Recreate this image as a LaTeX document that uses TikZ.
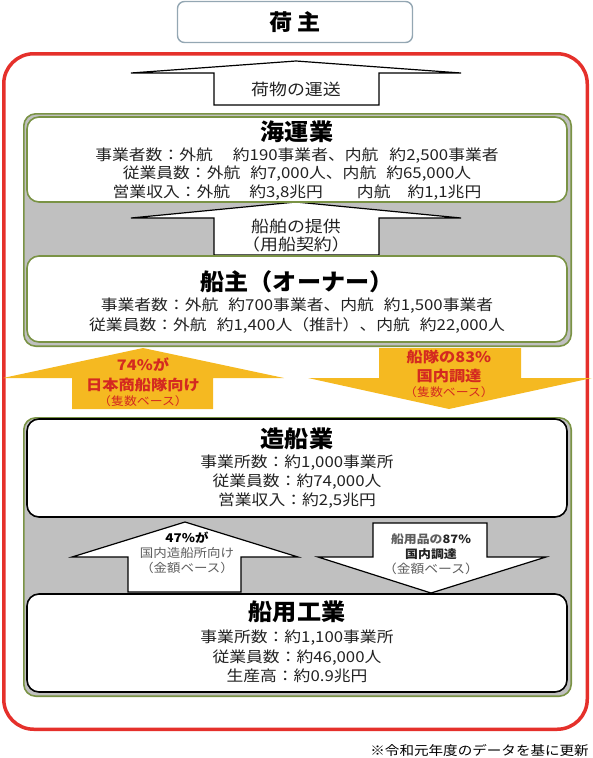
\documentclass[tikz,border=0pt]{standalone}
\usepackage{fontspec}
\setmainfont{Noto Sans CJK JP}[FakeStretch=1.12]
\newfontfamily\headfont{Noto Sans CJK JP}[FakeStretch=1.05]
\usetikzlibrary{positioning}
\definecolor{frame-red}{HTML}{E5302B}
\definecolor{group-gray}{HTML}{C0C0C0}
\definecolor{group-green}{HTML}{7A9345}
\definecolor{share-orange}{HTML}{F5B921}
\definecolor{share-red}{HTML}{D42A20}
\definecolor{shipper-line}{HTML}{94A7B3}
\definecolor{body-text}{HTML}{222222}
\definecolor{note-gray}{HTML}{5E5E5E}
\tikzset{redframe/.style =
   {rectangle,
    draw=frame-red,
    line width=3.5pt,
    rounded corners=30pt,
    minimum width=583.5pt,
    minimum height=675.5pt}}
\tikzset{shipperbox/.style =
   {rectangle,
    draw=shipper-line,
    fill=white,
    line width=1.4pt,
    rounded corners=7pt,
    minimum width=235pt,
    minimum height=41pt,
    font=\headfont\bfseries\fontsize{22}{24}\selectfont}}
\tikzset{group/.style =
   {rectangle,
    draw=group-green,
    fill=group-gray,
    line width=1.6pt,
    rounded corners=12pt,
    inner sep=0pt,
    minimum width=547.4pt}}
\tikzset{greenbox/.style =
   {rectangle,
    draw=group-green,
    fill=white,
    line width=1.6pt,
    rounded corners=12pt,
    inner sep=0pt,
    minimum width=540pt}}
\tikzset{blackbox/.style =
   {rectangle,
    draw=black,
    fill=white,
    line width=1.6pt,
    rounded corners=12pt,
    inner sep=0pt,
    minimum width=540pt,
    minimum height=98pt}}
\tikzset{headline/.style =
   {inner sep=0pt,
    text=black,
    font=\headfont\bfseries\fontsize{23}{26}\selectfont}}
\tikzset{figures/.style =
   {align=center,
    inner sep=0pt,
    text=body-text,
    font=\fontsize{15}{18.5}\selectfont}}
\tikzset{flowtext/.style =
   {align=center,
    inner sep=0pt,
    text=body-text,
    font=\fontsize{16}{18}\selectfont}}
\tikzset{sharetext/.style =
   {align=center,
    inner sep=0pt,
    text=share-red,
    font=\bfseries\fontsize{14.5}{19.5}\selectfont}}
\tikzset{sharenote/.style =
   {inner sep=0pt,
    text=share-red,
    font=\fontsize{11.5}{13}\selectfont}}
\tikzset{supplytext/.style =
   {align=center,
    inner sep=0pt,
    text=note-gray,
    font=\fontsize{12}{15}\selectfont}}
\tikzset{flowpath/.style = {draw=black, fill=white, line width=1.2pt}}
\tikzset{sharepath/.style = {fill=share-orange}}

\begin{document}
\begin{tikzpicture}[x=1pt, y=-1pt]

    \useasboundingbox (0,0) rectangle (592,758);

    \node [redframe] (frame) at (295.5,391.5) {};

    \node [shipperbox] (shipper) at (295,22) {荷\hspace{5pt}主};

    % carriage of cargo
    \draw [flowpath] (214,105) -- (214,73) -- (131,73) -- (296,61)
        -- (461,73) -- (379,73) -- (379,105) -- cycle;

    % shipping and ship owners
    \node [group,
           minimum height=232.4pt] (sea-group) at (297.5,230) {};

    \draw [flowpath] (214,255) -- (214,218) -- (131,218) -- (296,202)
        -- (461,218) -- (379,218) -- (379,255) -- cycle;

    \node [greenbox,
           minimum height=85pt] (kaiun) at (297,159.5) {};

    \node [greenbox,
           minimum height=86pt] (owner) at (297,299) {};

    % shipbuilding and marine equipment
    \node [group,
           minimum height=278.4pt] (yard-group) at (297.5,557) {};

    \draw [flowpath] (128,592) -- (128,557) -- (72,557) -- (185,522)
        -- (298,557) -- (241,557) -- (241,592) -- cycle;

    \draw [flowpath] (373,523) -- (487,523) -- (487,557) -- (546,557)
        -- (431,593) -- (318,557) -- (373,557) -- cycle;

    \node [blackbox] (yard) at (297,468) {};

    \node [blackbox] (equipment) at (297,643) {};

    % shares between owners and yards
    \fill [sharepath] (72,409) -- (72,378) -- (3,378) -- (143,348)
        -- (284,378) -- (213,378) -- (213,409) -- cycle;

    \fill [sharepath] (379,348) -- (521,348) -- (521,378) -- (592,378)
        -- (449,409) -- (308,378) -- (379,378) -- cycle;

    \node [flowtext] (carriage) at (296,89) {荷物の運送};

    \node [headline] (kaiun-title) at (297,132) {海運業};

    \node [figures] (kaiun-figures) at (297,174)
    {事業者数：外航\hspace{20pt}約190事業者、内航\hspace{11pt}約2,500事業者\\
     従業員数：外航\hspace{10pt}約7,000人、内航\hspace{10pt}約65,000人\\
     営業収入：外航\hspace{19pt}約3,8兆円\hspace{34pt}内航\hspace{17pt}約1,1兆円};

    \node [flowtext] (charter) at (296,236) {船舶の提供\\（用船契約）};

    \node [headline] (owner-title) at (297,282) {船主（オーナー）};

    \node [figures,
           font=\fontsize{15}{20}\selectfont] (owner-figures) at (297,316)
    {事業者数：外航\hspace{10pt}約700事業者、内航\hspace{10pt}約1,500事業者\\
     従業員数：外航\hspace{10pt}約1,400人（推計）、内航\hspace{10pt}約22,000人};

    \node [sharetext] (fleet-share) at (143,375) {74\%が\\日本商船隊向け};
    \node [sharenote,
           below = 3pt of fleet-share] (fleet-note) {（隻数ベース）};

    \node [sharetext] (domestic-share) at (449,366.5) {船隊の83\%\\国内調達};
    \node [sharenote,
           below = 3pt of domestic-share] (domestic-note) {（隻数ベース）};

    \node [headline] (yard-title) at (297,439) {造船業};

    \node [figures,
           font=\fontsize{15}{19}\selectfont] (yard-figures) at (297,481.5)
    {事業所数：約1,000事業所\\
     従業員数：約74,000人\\
     営業収入：約2,5兆円};

    \node [supplytext,
           text=black,
           font=\bfseries\fontsize{12}{15}\selectfont] (yard-share) at (187,538) {47\%が};
    \node [supplytext,
           font=\fontsize{12}{15}\selectfont,
           below = 3pt of yard-share] (yard-note) {国内造船所向け\\（金額ベース）};

    \node [supplytext,
           text=body-text,
           font=\bfseries\fontsize{11.5}{15}\selectfont] (parts-share) at (431,546.5)
    {{\color{note-gray}船用品の}87\%\\国内調達};
    \node [supplytext,
           font=\fontsize{12.3}{15}\selectfont,
           below = 3pt of parts-share] (parts-note) {（金額ベース）};

    \node [headline] (equipment-title) at (297,612) {船用工業};

    \node [figures,
           font=\fontsize{15}{19.5}\selectfont] (equipment-figures) at (297,656.5)
    {事業所数：約1,100事業所\\
     従業員数：約46,000人\\
     生産高：約0.9兆円};

    \node [anchor=east,
           inner sep=0pt,
           text=black,
           font=\fontsize{13}{15}\selectfont] (update-note) at (589,750)
    {※令和元年度のデータを基に更新};

\end{tikzpicture}
\end{document}
